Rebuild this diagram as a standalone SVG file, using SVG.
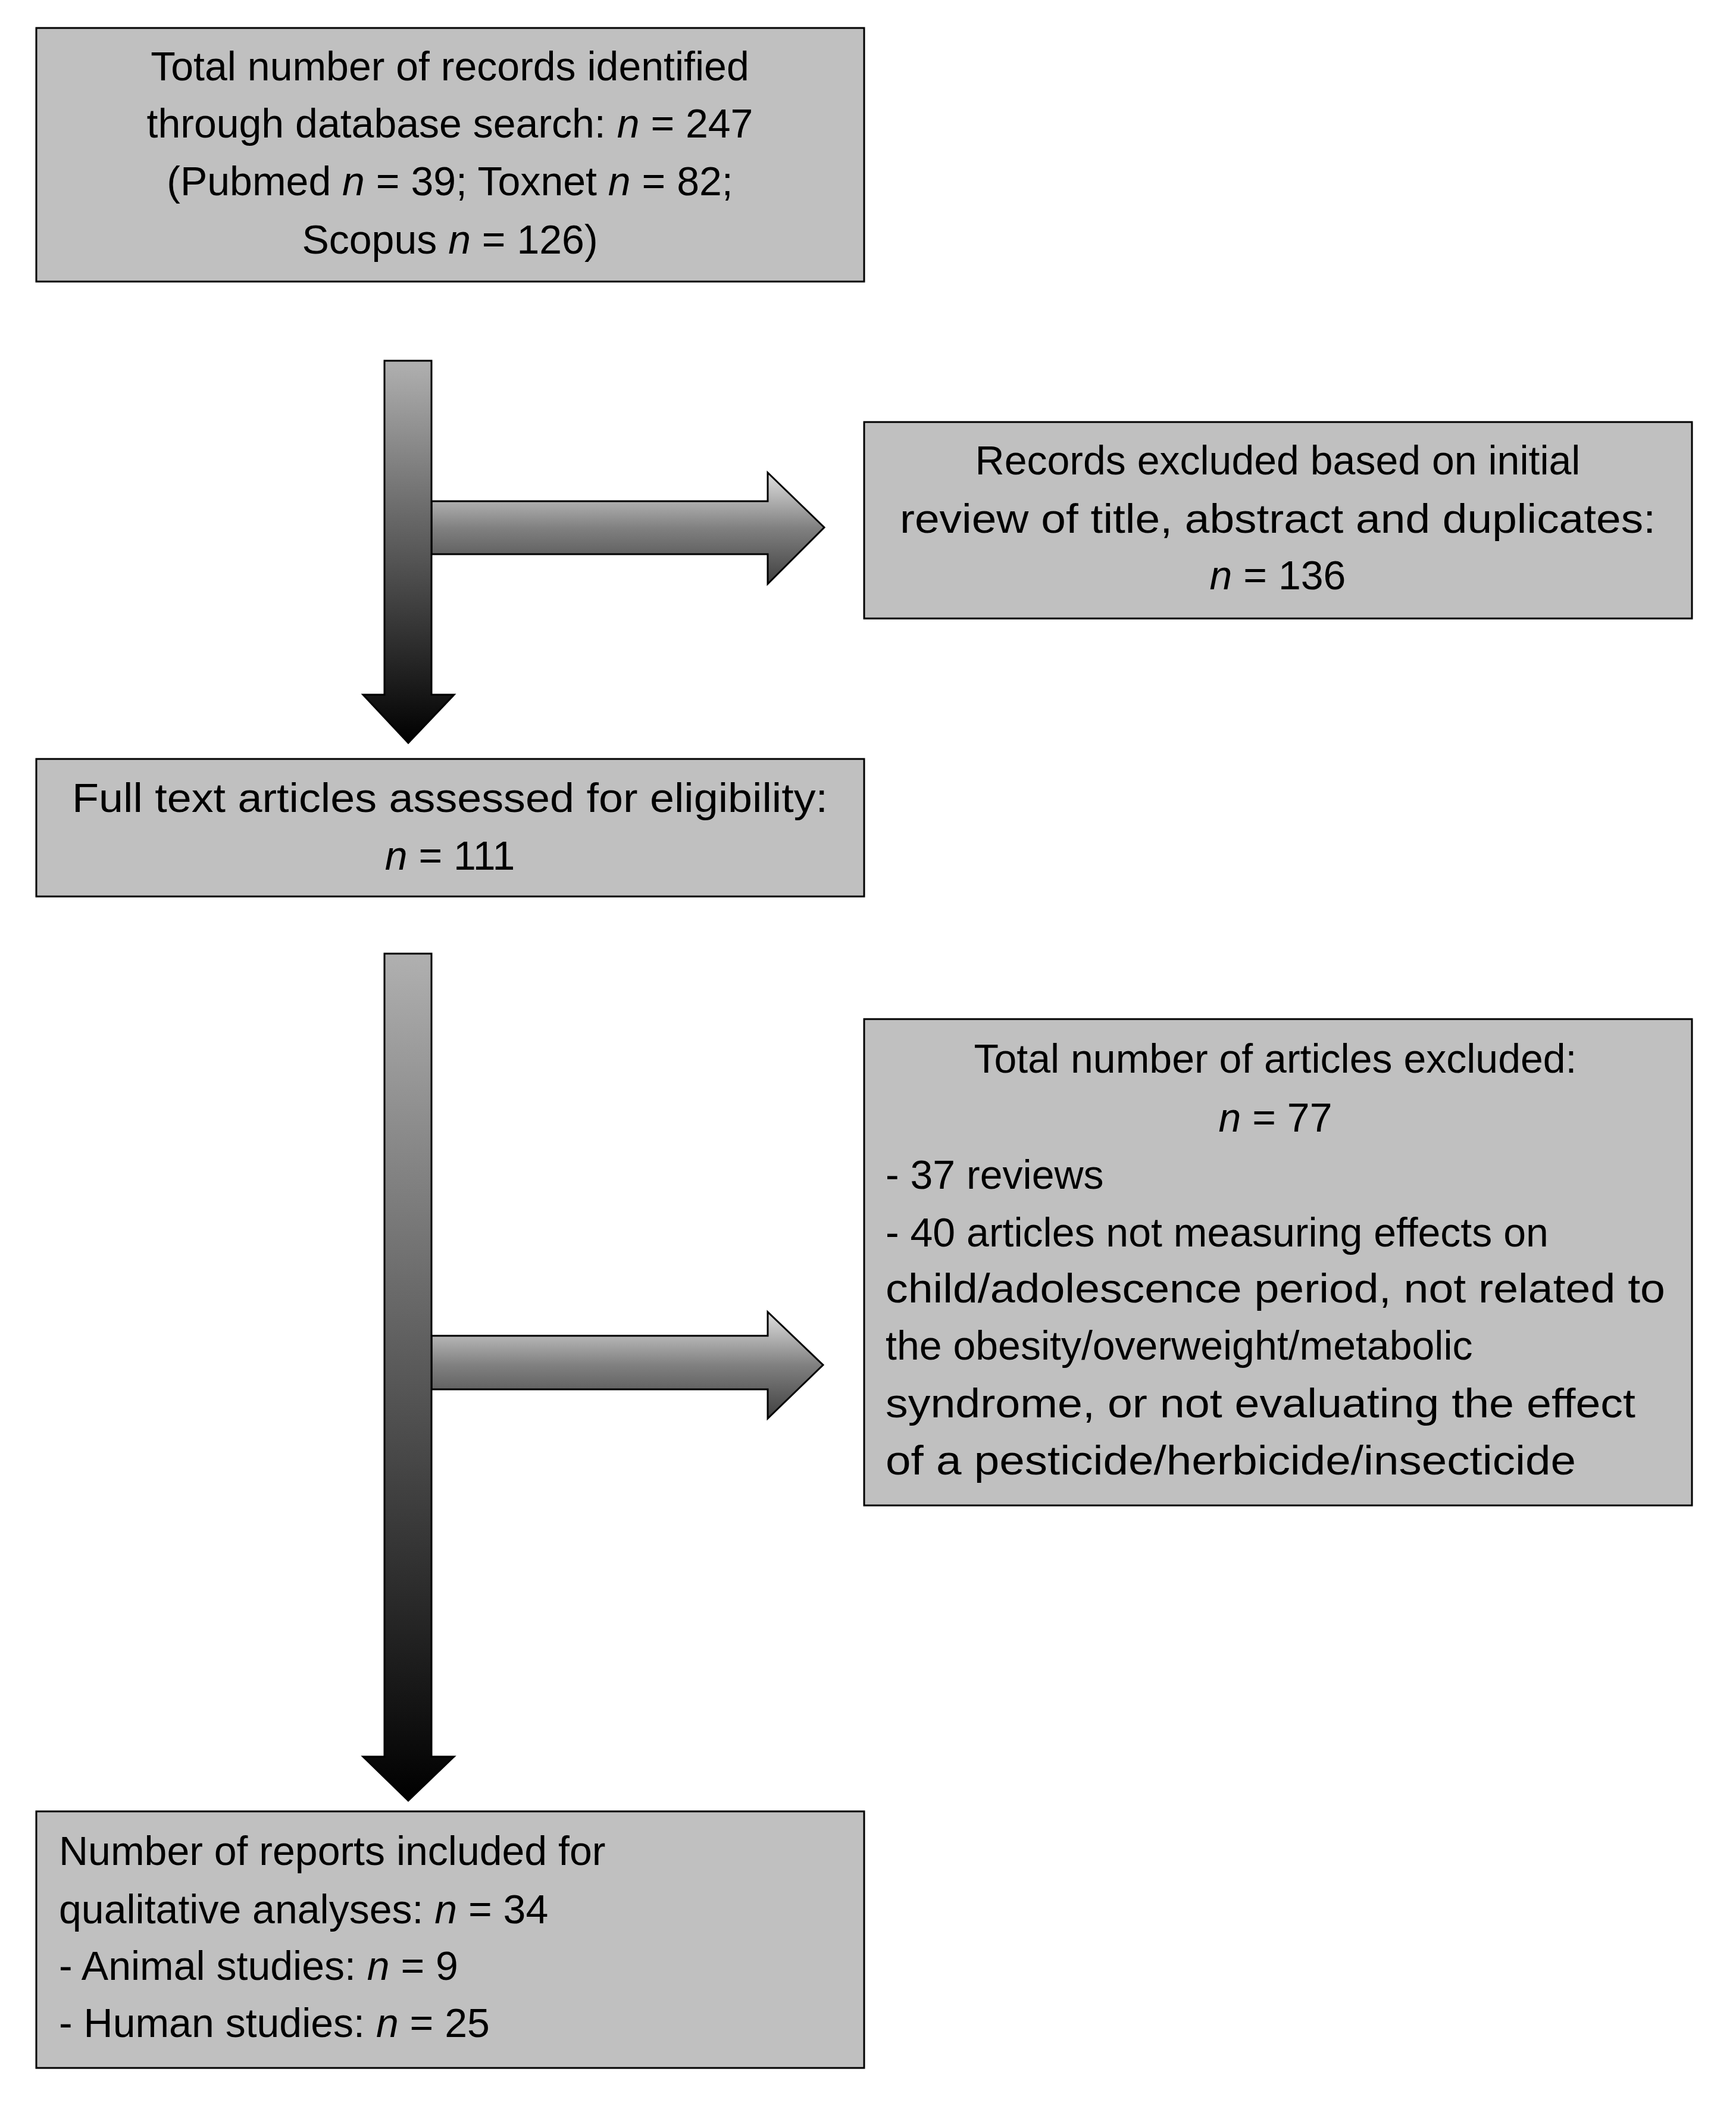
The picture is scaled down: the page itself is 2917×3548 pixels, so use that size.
<svg xmlns="http://www.w3.org/2000/svg" width="2917" height="3548" viewBox="0 0 2917 3548">
<style>
.box{fill:#c0c0c0;stroke:#000;stroke-width:3}
text{font-family:"Liberation Sans",Arial,sans-serif;font-size:68px;fill:#000}
.c{text-anchor:middle}
.i{font-style:italic}
.arr{stroke:#000;stroke-width:3}
</style>
<defs>
<linearGradient id="gv" x1="0" y1="0" x2="0" y2="1"><stop offset="0" stop-color="#b0b0b0"/><stop offset="1" stop-color="#000"/></linearGradient>
<linearGradient id="gh" x1="0" y1="0" x2="0" y2="1"><stop offset="0" stop-color="#e0e0e0"/><stop offset="0.5" stop-color="#808080"/><stop offset="1" stop-color="#404040"/></linearGradient>
</defs>
<rect width="2917" height="3548" fill="#fff"/>
<g id="connectors">
<path class="arr" fill="url(#gh)" d="M725,842 H1290 V794 L1385,886 L1290,981 V931 H725 Z"/>
<path class="arr" fill="url(#gh)" d="M725,2244 H1290 V2204 L1383,2293 L1290,2383 V2334 H725 Z"/>
<path class="arr" fill="url(#gv)" d="M646,606 H725 V1167 H763 L686,1248 L610,1167 H646 Z"/>
<path class="arr" fill="url(#gv)" d="M646,1602 H725 V2951 H763 L686,3025 L610,2951 H646 Z"/>
</g>
<g id="n1"><rect class="box" x="61" y="47" width="1391" height="426"/>
<text class="c" x="756" y="135">Total number of records identified</text>
<text class="c" x="756" y="231">through database search: <tspan class="i">n</tspan> = 247</text>
<text class="c" x="756" y="328">(Pubmed <tspan class="i">n</tspan> = 39; Toxnet <tspan class="i">n</tspan> = 82;</text>
<text class="c" x="756" y="426">Scopus  <tspan class="i">n</tspan> = 126)</text></g>
<g id="n2"><rect class="box" x="1452" y="709" width="1391" height="330"/>
<text class="c" x="2147" y="797">Records excluded based on initial</text>
<text class="c" x="2147" y="895" textLength="1270" lengthAdjust="spacingAndGlyphs">review of title, abstract and duplicates:</text>
<text class="c" x="2147" y="990"><tspan class="i">n</tspan> = 136</text></g>
<g id="n3"><rect class="box" x="61" y="1275" width="1391" height="231"/>
<text class="c" x="756" y="1364" textLength="1270" lengthAdjust="spacingAndGlyphs">Full text articles assessed for eligibility:</text>
<text class="c" x="756" y="1461"><tspan class="i">n</tspan> = 111</text></g>
<g id="n4"><rect class="box" x="1452" y="1712" width="1391" height="817"/>
<text class="c" x="2143" y="1802">Total number of articles excluded:</text>
<text class="c" x="2143" y="1901"><tspan class="i">n</tspan> = 77</text>
<text x="1488" y="1997">- 37 reviews</text>
<text x="1488" y="2094">- 40 articles not measuring effects on</text>
<text x="1488" y="2188" textLength="1310" lengthAdjust="spacingAndGlyphs">child/adolescence period, not related to</text>
<text x="1488" y="2284">the obesity/overweight/metabolic</text>
<text x="1488" y="2381" textLength="1260" lengthAdjust="spacingAndGlyphs">syndrome, or not evaluating the effect</text>
<text x="1488" y="2477" textLength="1160" lengthAdjust="spacingAndGlyphs">of a pesticide/herbicide/insecticide</text></g>
<g id="n5"><rect class="box" x="61" y="3043" width="1391" height="431"/>
<text x="99" y="3133">Number of reports included for</text>
<text x="99" y="3231">qualitative analyses: <tspan class="i">n</tspan> = 34</text>
<text x="99" y="3326">- Animal studies: <tspan class="i">n</tspan> = 9</text>
<text x="99" y="3422">- Human studies: <tspan class="i">n</tspan> = 25</text></g>
</svg>
